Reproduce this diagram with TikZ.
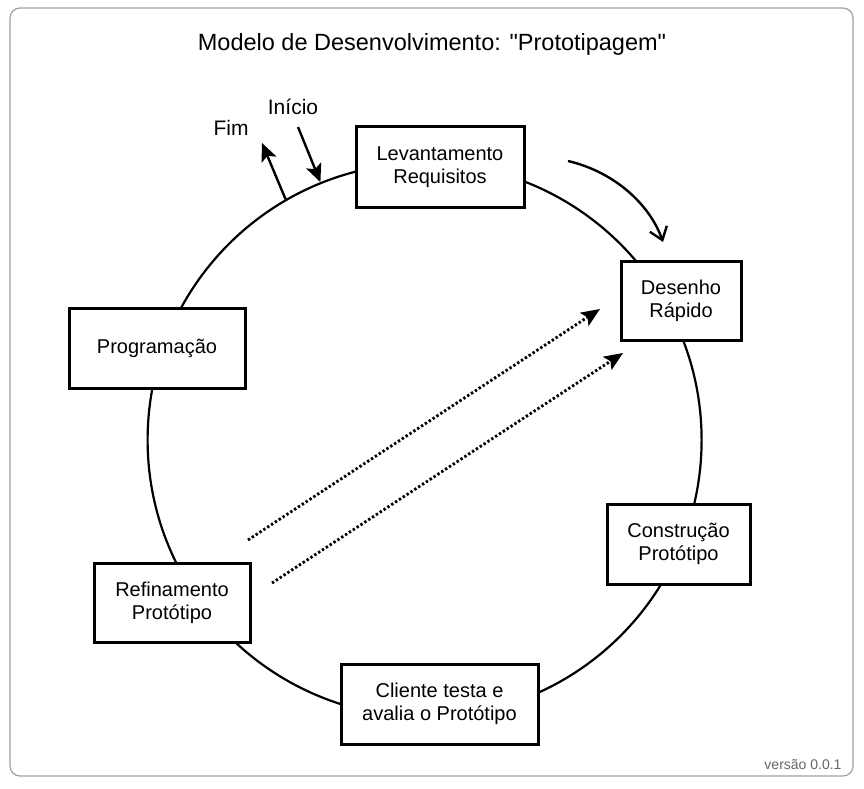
\documentclass[tikz,border=0pt]{standalone}
\usepackage{fontspec}
\setmainfont{Liberation Sans}[Ligatures=TeXOff]
\usetikzlibrary{arrows.meta}
\definecolor{framegray}{HTML}{A0A0A0}
\definecolor{versiongray}{HTML}{666666}
\tikzset{
  stagebox/.style={draw=black, line width=3pt, fill=white, align=center, inner sep=0pt,
    font=\fontsize{20}{23}\selectfont},
  ringstyle/.style={draw=black, line width=2.2pt, circle, minimum size=554pt, inner sep=0pt},
  solidarrow/.style={line width=2.4pt, -{Stealth[length=18pt,width=16pt,inset=4pt]}},
  curvedarrow/.style={line width=2.4pt, -{Straight Barb[length=12pt,width=18pt,line width=2.4pt]}},
  dotarrow/.style={line width=2.8pt, dash pattern=on 2.4pt off 2.2pt,
    -{Stealth[length=19pt,width=16pt,inset=4pt,line width=0pt]}},
  lbl/.style={font=\fontsize{21}{24}\selectfont, inner sep=0pt},
}
\begin{document}
\begin{tikzpicture}[x=1pt,y=-1pt]
\useasboundingbox (0,0) rectangle (864,789);
% frame
\draw[framegray, line width=1.2pt, rounded corners=10pt] (10,8) rectangle (853,776);
% title
\node[inner sep=0pt, font=\fontsize{23.5}{28}\selectfont] (title) at (432,44)
  {Modelo de Desenvolvimento: "Prototipagem"};
% ring
\node[ringstyle] (ring) at (424.6,440) {};
% stages
\node[stagebox, minimum width=168pt, minimum height=80pt] (lev) at (440,167) {Levantamento\\Requisitos};
\node[stagebox, minimum width=120pt, minimum height=79pt] (des) at (681,300.5) {Desenho\\Rápido};
\node[stagebox, minimum width=176pt, minimum height=80pt] (prog) at (157,348) {Programação};
\node[stagebox, minimum width=143pt, minimum height=80pt] (cons) at (678.5,544) {Construção\\Protótipo};
\node[stagebox, minimum width=156pt, minimum height=79pt] (ref) at (172,602.5) {Refinamento\\Protótipo};
\node[stagebox, minimum width=197pt, minimum height=80pt] (cli) at (439.5,704) {Cliente testa e\\avalia o Protótipo};
% labels
\node[lbl] (inicio) at (293,107) {Início};
\node[lbl] (fim) at (231,128) {Fim};
\node[inner sep=0pt, text=versiongray, font=\fontsize{14}{16}\selectfont] (versao) at (803,765) {versão 0.0.1};
% start / end arrows
\coordinate (fimtip) at (262,143);
\coordinate (iniciostart) at (298,127);
\draw[solidarrow] (ring.120) -- (fimtip);
\draw[solidarrow] (iniciostart) -- (ring.112.8);
% curved direction arrow
\coordinate (cstart) at (568,161);
\coordinate (cend) at (663,242);
\draw[curvedarrow] (cstart) .. controls (615,172) and (650,205) .. (cend);
% dotted feedback arrows
\coordinate (d1s) at (248,540);
\coordinate (d1e) at (600,309);
\coordinate (d2s) at (272,583);
\coordinate (d2e) at (623,353);
\draw[dotarrow] (d1s) -- (d1e);
\draw[dotarrow] (d2s) -- (d2e);
\end{tikzpicture}
\end{document}
